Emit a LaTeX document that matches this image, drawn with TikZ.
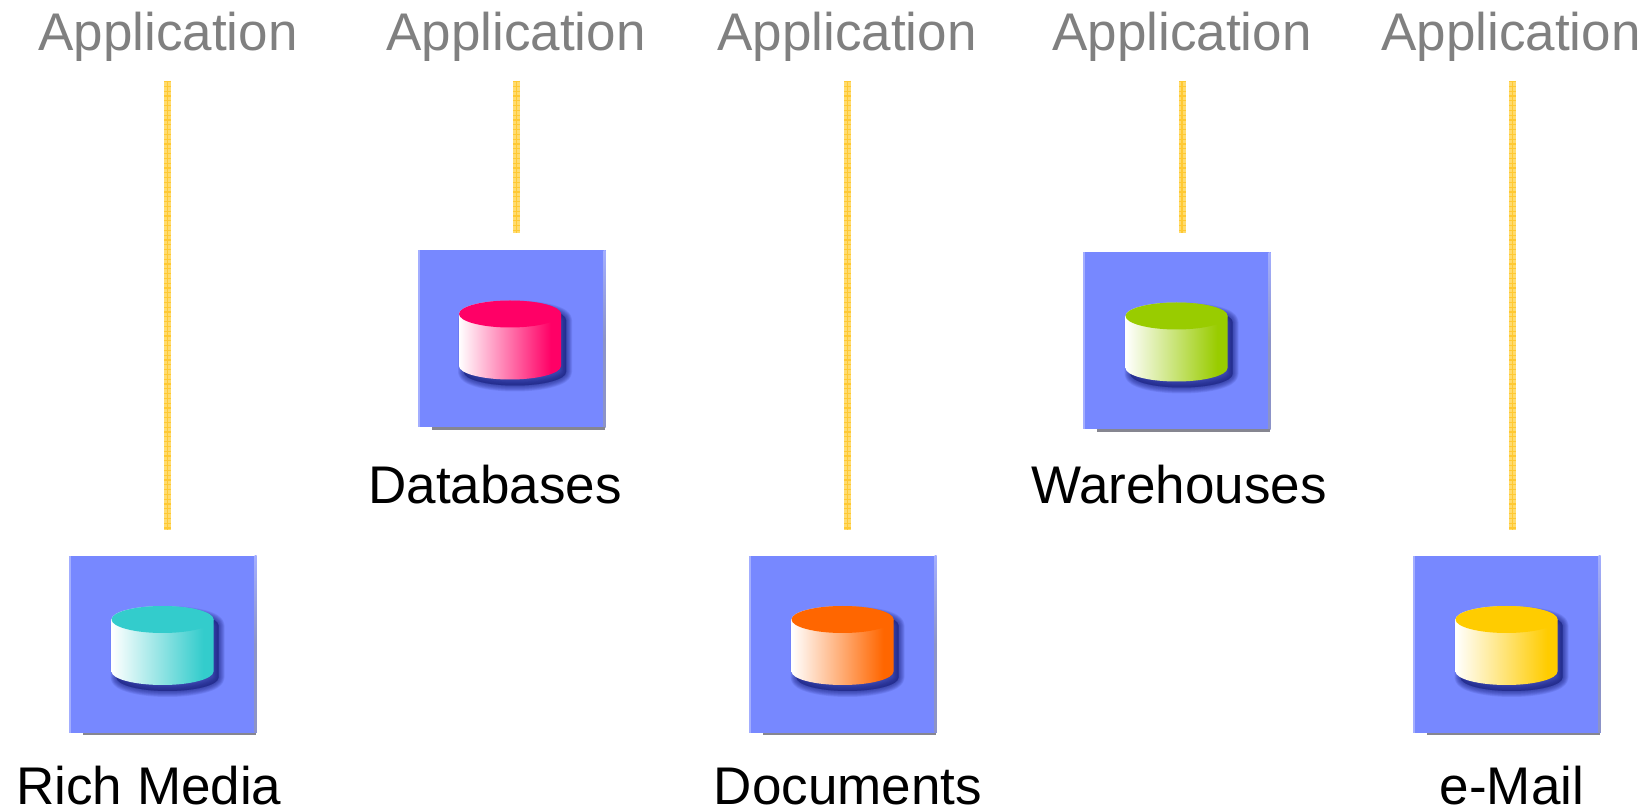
\documentclass[tikz,border=0pt]{standalone}
\usepackage{fontspec}
\setmainfont{Liberation Sans}
\definecolor{boxblue}{HTML}{7788FF}
\definecolor{boxedge}{HTML}{A3AEFF}
\definecolor{boxedgelow}{HTML}{8C93C8}
\definecolor{boxgrey}{HTML}{868690}
\definecolor{linkyellow}{HTML}{FFDB6E}
\definecolor{linkdeep}{HTML}{FFC933}
\definecolor{appgrey}{HTML}{808080}
\definecolor{shadownavy}{HTML}{1A2280}
\definecolor{cteal}{HTML}{33CCCC}
\definecolor{cpink}{HTML}{FF0066}
\definecolor{cgreen}{HTML}{99CC00}
\definecolor{corange}{HTML}{FF6600}
\definecolor{cyellow}{HTML}{FFCC00}
\pgfdeclarehorizontalshading{sideteal}{100bp}{color(0bp)=(white);color(25bp)=(white);color(70bp)=(cteal);color(100bp)=(cteal)}
\pgfdeclarehorizontalshading{sidepink}{100bp}{color(0bp)=(white);color(25bp)=(white);color(70bp)=(cpink);color(100bp)=(cpink)}
\pgfdeclarehorizontalshading{sidegreen}{100bp}{color(0bp)=(white);color(25bp)=(white);color(70bp)=(cgreen);color(100bp)=(cgreen)}
\pgfdeclarehorizontalshading{sideorange}{100bp}{color(0bp)=(white);color(25bp)=(white);color(70bp)=(corange);color(100bp)=(corange)}
\pgfdeclarehorizontalshading{sideyellow}{100bp}{color(0bp)=(white);color(25bp)=(white);color(70bp)=(cyellow);color(100bp)=(cyellow)}
\tikzset{
  storebox/.style={fill=boxblue,draw=none,minimum width=188pt,minimum height=177pt,inner sep=0pt,outer sep=0pt},
  applabel/.style={anchor=base,inner sep=0pt,text=appgrey,font=\fontsize{53}{60}\selectfont},
  storelabel/.style={anchor=base,inner sep=0pt,text=black,font=\fontsize{53}{60}\selectfont},
  linkline/.style={draw=linkyellow,line width=7pt,
    postaction={draw=linkdeep,line width=7pt,dash pattern=on 1.2pt off 3.6pt},
    postaction={draw=linkdeep,line width=1.4pt}},
}
\newcommand{\cylsil}{(-51,25) -- (-51,-27) arc (180:360:51 and 13.5) -- (51,25) arc (0:180:51 and 13.5) -- cycle}
% box trim and cylinder, centred on a box node; #4 nudges the cylinder sideways
\newcommand{\storeicon}[4]{%
  \begin{scope}[shift={(#1.center)}]
    \fill[boxedge] (-94,-88.5) rectangle (-92,88.5);
    \shade[top color=boxedge,bottom color=boxedgelow,middle color=boxedgelow] (92,-88.5) rectangle (94,88.5);
    \fill[boxgrey] (-79.5,-88.5) rectangle (93.5,-91);
    \begin{scope}[shift={({#4+5},-6)}]
      \foreach \r in {12,10.5,9,7.5,6,4.5,3,1.5,0.2}{
        \draw[draw=shadownavy,fill=shadownavy,opacity=0.1,line width=\r pt,line join=round] \cylsil;
      }
    \end{scope}
    \begin{scope}[shift={(#4,0)}]
      \shade[shading=#2] \cylsil;
      \fill[#3] (0,25) ellipse (51 and 13.5);
    \end{scope}
  \end{scope}}
\begin{document}
\begin{tikzpicture}[x=1pt,y=1pt]
\useasboundingbox (0,0) rectangle (1650,809);
\fill[white] (0,0) rectangle (1650,809);
% boxes
\node[storebox] (box1) at (162.5,164.5) {};
\node[storebox] (box2) at (511.5,470) {};
\node[storebox] (box3) at (842.5,164.5) {};
\node[storebox] (box4) at (1176.5,468) {};
\node[storebox] (box5) at (1506.5,164.5) {};
\storeicon{box1}{sideteal}{cteal}{0}
\storeicon{box2}{sidepink}{cpink}{-1.5}
\storeicon{box3}{sideorange}{corange}{0}
\storeicon{box4}{sidegreen}{cgreen}{0}
\storeicon{box5}{sideyellow}{cyellow}{0}
% application labels
\node[applabel] (app1) at (168,758) {Application};
\node[applabel] (app2) at (516,758) {Application};
\node[applabel] (app3) at (847,758) {Application};
\node[applabel] (app4) at (1182,758) {Application};
\node[applabel] (app5) at (1511,758) {Application};
% store labels
\node[storelabel] (lab1) at (149,5) {Rich Media};
\node[storelabel] (lab2) at (495,305) {Databases};
\node[storelabel] (lab3) at (848,5) {Documents};
\node[storelabel] (lab4) at (1179,305) {Warehouses};
\node[storelabel] (lab5) at (1512,5) {e-Mail};
% connector ends
\coordinate (top1) at (167.5,728);
\coordinate (end1) at (167.5,279);
\coordinate (top2) at (516.5,728);
\coordinate (end2) at (516.5,576);
\coordinate (top3) at (847.5,728);
\coordinate (end3) at (847.5,279);
\coordinate (top4) at (1182,728);
\coordinate (end4) at (1182,576);
\coordinate (top5) at (1512.5,728);
\coordinate (end5) at (1512.5,279);
\draw[linkline] (top1) -- (end1);
\draw[linkline] (top2) -- (end2);
\draw[linkline] (top3) -- (end3);
\draw[linkline] (top4) -- (end4);
\draw[linkline] (top5) -- (end5);
\end{tikzpicture}
\end{document}
